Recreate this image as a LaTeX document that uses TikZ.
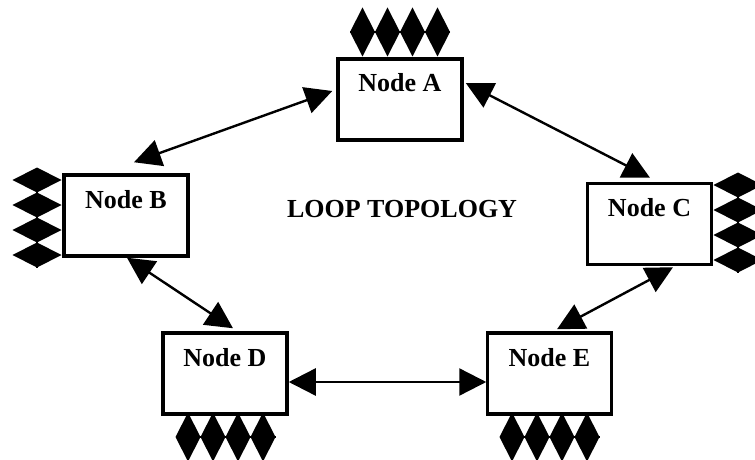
\documentclass[tikz,border=0pt]{standalone}
\usepackage{fontspec}
\setmainfont{Liberation Serif}
\usetikzlibrary{arrows.meta}

\tikzset{station/.style={
    	draw, line width=3.5pt,
    	minimum width=124pt, inner xsep=0pt, inner ysep=0pt,
    	text height=33pt, text depth=48pt,
    	font=\bfseries\fontsize{26}{30}\selectfont
  	},
  	link/.style={line width=2.4pt, {Triangle[length=27pt,width=27pt]}-{Triangle[length=27pt,width=27pt]}}
}

\begin{document}
\begin{tikzpicture}[x=1pt, y=1pt]
		\useasboundingbox (0,0) rectangle (755,459);

		\node [station] (a) at (400,359.5) {Node A};
		\node [station] (b) at (126,243.5) {Node B};
		\node [station] (c) at (649.5,235) {Node C};
		\node [station] (d) at (225,85.5) {Node D};
		\node [station] (e) at (549.5,85.5) {Node E};

		\node [font=\bfseries\fontsize{26}{30}\selectfont, anchor=base] (title) at (402,242) {LOOP TOPOLOGY};

		\draw [link] ([xshift=-4pt, yshift=8.5pt]a.west) -- ([xshift=8pt, yshift=11pt]b.north);
		\draw [link] ([xshift=2pt, yshift=16.5pt]a.east) -- ([xshift=0.5pt, yshift=4pt]c.north);
		\draw [link] ([xshift=1pt]b.south) -- ([xshift=8pt, yshift=3pt]d.north);
		\draw [link] ([xshift=23.5pt, yshift=-1pt]c.south) -- ([xshift=7.5pt, yshift=2pt]e.north);
		\draw [link] ([yshift=-8.5pt]d.east) -- ([xshift=0.5pt, yshift=-8.5pt]e.west);

		% ports: rows of diamonds on a bar
		\draw [line width=2pt] (350,427) -- (450,427);
		\foreach \x in {362.5, 387.5, 412.5, 437.5}
			\fill (\x-12.5,427) -- (\x,451.5) -- (\x+12.5,427) -- (\x,402.5) -- cycle;
		\draw [line width=2pt] (175.5,22) -- (275.5,22);
		\foreach \x in {188, 213, 238, 263}
			\fill (\x-12.5,22) -- (\x,46.5) -- (\x+12.5,22) -- (\x,-2.5) -- cycle;
		\draw [line width=2pt] (499.5,22) -- (599.5,22);
		\foreach \x in {512, 537, 562, 587}
			\fill (\x-12.5,22) -- (\x,46.5) -- (\x+12.5,22) -- (\x,-2.5) -- cycle;
		\draw [line width=2pt] (37,291.5) -- (37,191.5);
		\foreach \y in {279, 254, 229, 204}
			\fill (12.5,\y) -- (37,\y+12.5) -- (61.5,\y) -- (37,\y-12.5) -- cycle;
		\draw [line width=2pt] (738,286.5) -- (738,186.5);
		\foreach \y in {274, 249, 224, 199}
			\fill (713.5,\y) -- (738,\y+12.5) -- (762.5,\y) -- (738,\y-12.5) -- cycle;
	\end{tikzpicture}
\end{document}
